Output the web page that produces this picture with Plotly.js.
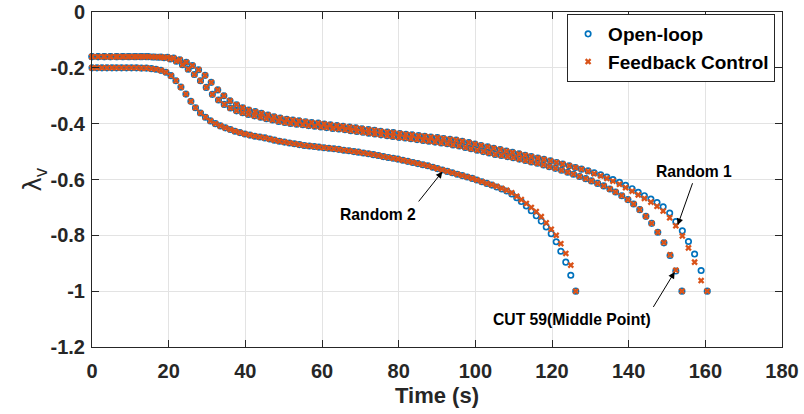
<!DOCTYPE html>
<html><head><meta charset="utf-8">
<script src="https://cdn.plot.ly/plotly-3.0.1.min.js"></script>
<style>html,body{margin:0;padding:0;background:#fff}#chart{width:804px;height:414px}</style>
</head><body><div id="chart"></div>
<script>
// ---- Random 1 ----
const tRandom1 = [0.0,1.6,3.3,4.9,6.6,8.2,9.8,11.5,13.1,14.7,
16.4,18.0,19.7,21.3,22.9,24.6,26.2,27.8,29.5,31.1,
32.8,34.4,36.0,37.7,39.3,40.9,42.6,44.2,45.9,47.5,
49.1,50.8,52.4,54.0,55.7,57.3,59.0,60.6,62.2,63.9,
65.5,67.2,68.8,70.4,72.1,73.7,75.3,77.0,78.6,80.3,
81.9,83.5,85.2,86.8,88.4,90.1,91.7,93.4,95.0,96.6,
98.3,99.9,101.5,103.2,104.8,106.5,108.1,109.7,111.4,113.0,
114.6,116.3,117.9,119.6,121.2,122.8,124.5,126.1,127.7,129.4,
131.0,132.7,134.3,135.9,137.6,139.2,140.9,142.5,144.1,145.8,
147.4,149.0,150.7,152.3,154.0,155.6,157.2,158.9,160.5];
const openRandom1 = [-0.160,-0.160,-0.160,-0.160,-0.160,-0.160,-0.160,-0.160,-0.160,-0.160,
-0.161,-0.161,-0.162,-0.165,-0.171,-0.180,-0.192,-0.207,-0.227,-0.252,
-0.279,-0.300,-0.318,-0.332,-0.343,-0.351,-0.357,-0.363,-0.369,-0.375,
-0.380,-0.384,-0.387,-0.390,-0.393,-0.396,-0.398,-0.401,-0.404,-0.407,
-0.409,-0.412,-0.415,-0.418,-0.421,-0.424,-0.427,-0.430,-0.432,-0.435,
-0.438,-0.440,-0.443,-0.445,-0.448,-0.450,-0.453,-0.456,-0.459,-0.463,
-0.468,-0.473,-0.478,-0.483,-0.488,-0.493,-0.498,-0.503,-0.508,-0.513,
-0.518,-0.523,-0.528,-0.533,-0.539,-0.545,-0.551,-0.557,-0.563,-0.569,
-0.576,-0.583,-0.591,-0.600,-0.610,-0.621,-0.633,-0.646,-0.658,-0.670,
-0.683,-0.698,-0.720,-0.751,-0.784,-0.822,-0.867,-0.926,-1.000];
const fbRandom1 = [-0.160,-0.160,-0.160,-0.160,-0.160,-0.160,-0.160,-0.160,-0.160,-0.160,
-0.161,-0.161,-0.162,-0.165,-0.171,-0.180,-0.192,-0.207,-0.227,-0.252,
-0.279,-0.300,-0.318,-0.332,-0.343,-0.351,-0.357,-0.363,-0.369,-0.375,
-0.380,-0.384,-0.387,-0.390,-0.393,-0.396,-0.398,-0.401,-0.404,-0.407,
-0.409,-0.412,-0.415,-0.418,-0.421,-0.424,-0.427,-0.430,-0.432,-0.435,
-0.438,-0.440,-0.443,-0.445,-0.448,-0.450,-0.453,-0.456,-0.459,-0.463,
-0.468,-0.473,-0.478,-0.483,-0.488,-0.493,-0.498,-0.503,-0.508,-0.513,
-0.518,-0.523,-0.528,-0.533,-0.539,-0.545,-0.551,-0.557,-0.563,-0.571,
-0.579,-0.587,-0.596,-0.606,-0.617,-0.629,-0.642,-0.655,-0.668,-0.681,
-0.696,-0.713,-0.737,-0.766,-0.802,-0.845,-0.896,-0.962,-1.000];

// ---- CUT 59 (Middle Point) ----
const tCut59 = [0.0,1.6,3.1,4.7,6.3,7.9,9.4,11.0,12.6,14.1,
15.7,17.3,18.8,20.4,22.0,23.6,25.1,26.7,28.3,29.8,
31.4,33.0,34.5,36.1,37.7,39.3,40.8,42.4,44.0,45.5,
47.1,48.7,50.3,51.8,53.4,55.0,56.5,58.1,59.7,61.2,
62.8,64.4,66.0,67.5,69.1,70.7,72.2,73.8,75.4,77.0,
78.5,80.1,81.7,83.2,84.8,86.4,87.9,89.5,91.1,92.7,
94.2,95.8,97.4,98.9,100.5,102.1,103.6,105.2,106.8,108.4,
109.9,111.5,113.1,114.6,116.2,117.8,119.3,120.9,122.5,124.1,
125.6,127.2,128.8,130.3,131.9,133.5,135.1,136.6,138.2,139.8,
141.3,142.9,144.5,146.0,147.6,149.2,150.8,152.3,153.9];
const openCut59 = [-0.160,-0.160,-0.160,-0.160,-0.160,-0.160,-0.160,-0.160,-0.160,-0.160,
-0.161,-0.162,-0.164,-0.168,-0.176,-0.189,-0.205,-0.224,-0.246,-0.270,
-0.295,-0.315,-0.331,-0.344,-0.354,-0.361,-0.367,-0.372,-0.377,-0.382,
-0.387,-0.392,-0.396,-0.399,-0.402,-0.404,-0.407,-0.409,-0.412,-0.414,
-0.417,-0.419,-0.422,-0.425,-0.428,-0.431,-0.434,-0.437,-0.440,-0.443,
-0.446,-0.449,-0.451,-0.454,-0.457,-0.460,-0.463,-0.466,-0.469,-0.472,
-0.476,-0.480,-0.485,-0.490,-0.495,-0.500,-0.505,-0.510,-0.514,-0.518,
-0.522,-0.527,-0.532,-0.537,-0.542,-0.548,-0.554,-0.560,-0.567,-0.574,
-0.581,-0.589,-0.597,-0.605,-0.614,-0.623,-0.634,-0.645,-0.658,-0.672,
-0.688,-0.708,-0.732,-0.757,-0.789,-0.827,-0.872,-0.928,-1.000];
const fbCut59 = [-0.160,-0.160,-0.160,-0.160,-0.160,-0.160,-0.160,-0.160,-0.160,-0.160,
-0.161,-0.162,-0.164,-0.168,-0.176,-0.189,-0.205,-0.224,-0.246,-0.270,
-0.295,-0.315,-0.331,-0.344,-0.354,-0.361,-0.367,-0.372,-0.377,-0.382,
-0.387,-0.392,-0.396,-0.399,-0.402,-0.404,-0.407,-0.409,-0.412,-0.414,
-0.417,-0.419,-0.422,-0.425,-0.428,-0.431,-0.434,-0.437,-0.440,-0.443,
-0.446,-0.449,-0.451,-0.454,-0.457,-0.460,-0.463,-0.466,-0.469,-0.472,
-0.476,-0.480,-0.485,-0.490,-0.495,-0.500,-0.505,-0.510,-0.514,-0.518,
-0.522,-0.527,-0.532,-0.537,-0.542,-0.548,-0.554,-0.560,-0.567,-0.574,
-0.581,-0.589,-0.597,-0.605,-0.614,-0.623,-0.634,-0.645,-0.658,-0.672,
-0.688,-0.708,-0.732,-0.757,-0.789,-0.826,-0.870,-0.925,-1.000];

// ---- Random 2 ----
const tRandom2 = [0.0,1.3,2.6,3.9,5.2,6.4,7.7,9.0,10.3,11.6,
12.9,14.2,15.5,16.7,18.0,19.3,20.6,21.9,23.2,24.5,
25.8,27.0,28.3,29.6,30.9,32.2,33.5,34.8,36.1,37.3,
38.6,39.9,41.2,42.5,43.8,45.1,46.4,47.6,48.9,50.2,
51.5,52.8,54.1,55.4,56.7,58.0,59.2,60.5,61.8,63.1,
64.4,65.7,67.0,68.3,69.5,70.8,72.1,73.4,74.7,76.0,
77.3,78.6,79.8,81.1,82.4,83.7,85.0,86.3,87.6,88.9,
90.1,91.4,92.7,94.0,95.3,96.6,97.9,99.2,100.4,101.7,
103.0,104.3,105.6,106.9,108.2,109.5,110.8,112.0,113.3,114.6,
115.9,117.2,118.5,119.8,121.1,122.3,123.6,124.9,126.2];
const openRandom2 = [-0.200,-0.200,-0.200,-0.200,-0.200,-0.200,-0.200,-0.200,-0.200,-0.200,
-0.201,-0.201,-0.203,-0.205,-0.209,-0.216,-0.228,-0.246,-0.269,-0.294,
-0.320,-0.343,-0.362,-0.377,-0.390,-0.400,-0.408,-0.415,-0.421,-0.427,
-0.432,-0.437,-0.441,-0.445,-0.448,-0.451,-0.455,-0.459,-0.463,-0.466,
-0.469,-0.472,-0.475,-0.478,-0.480,-0.482,-0.484,-0.486,-0.488,-0.490,
-0.492,-0.495,-0.497,-0.500,-0.502,-0.505,-0.508,-0.511,-0.514,-0.518,
-0.521,-0.524,-0.527,-0.531,-0.535,-0.539,-0.543,-0.547,-0.551,-0.556,
-0.561,-0.566,-0.571,-0.576,-0.581,-0.586,-0.591,-0.596,-0.602,-0.608,
-0.614,-0.620,-0.627,-0.634,-0.641,-0.652,-0.665,-0.679,-0.695,-0.712,
-0.730,-0.749,-0.770,-0.794,-0.823,-0.857,-0.896,-0.943,-1.000];
const fbRandom2 = [-0.200,-0.200,-0.200,-0.200,-0.200,-0.200,-0.200,-0.200,-0.200,-0.200,
-0.201,-0.201,-0.203,-0.205,-0.209,-0.216,-0.228,-0.246,-0.269,-0.294,
-0.320,-0.343,-0.362,-0.377,-0.390,-0.400,-0.408,-0.415,-0.421,-0.427,
-0.432,-0.437,-0.441,-0.445,-0.448,-0.451,-0.455,-0.459,-0.463,-0.466,
-0.469,-0.472,-0.475,-0.478,-0.480,-0.482,-0.484,-0.486,-0.488,-0.490,
-0.492,-0.495,-0.497,-0.500,-0.502,-0.505,-0.508,-0.511,-0.514,-0.518,
-0.521,-0.524,-0.527,-0.531,-0.535,-0.539,-0.543,-0.547,-0.551,-0.556,
-0.561,-0.566,-0.571,-0.576,-0.581,-0.586,-0.591,-0.596,-0.602,-0.608,
-0.614,-0.619,-0.625,-0.632,-0.639,-0.648,-0.660,-0.672,-0.686,-0.700,
-0.715,-0.733,-0.755,-0.778,-0.800,-0.830,-0.865,-0.907,-1.000];

// ---- axes ticks ----
const xTickVals = [0,20,40,60,80,100,120,140,160,180];
const xTickText = ['0','20','40','60','80','100','120','140','160','180'];
const yTickVals = [0,-0.2,-0.4,-0.6,-0.8,-1,-1.2];
const yTickText = ['0','-0.2','-0.4','-0.6','-0.8','-1','-1.2'];

const seriesNames = ['Open-loop','Feedback Control'];
const BLUE = '#0072BD', ORANGE = '#D95319';
const FONT = 'Liberation Sans, Arial, Helvetica, sans-serif';
const bold = s => '<b>' + s + '</b>';

function openTrace(t, y, show) {
  return {x: t, y: y, type: 'scatter', mode: 'markers', name: bold(seriesNames[0]),
    legendgroup: 'open', showlegend: show, cliponaxis: false,
    marker: {symbol: 'circle-open', size: 5.4, color: BLUE, line: {color: BLUE, width: 1.7}}};
}
function fbTrace(t, y, show) {
  return {x: t, y: y, type: 'scatter', mode: 'markers', name: bold(seriesNames[1]),
    legendgroup: 'fb', showlegend: show, cliponaxis: false,
    marker: {symbol: 'x', size: 5.8, color: ORANGE, line: {width: 0}}};
}
const data = [
  openTrace(tRandom1, openRandom1, true),
  openTrace(tCut59, openCut59, false),
  openTrace(tRandom2, openRandom2, false),
  fbTrace(tRandom1, fbRandom1, true),
  fbTrace(tCut59, fbCut59, false),
  fbTrace(tRandom2, fbRandom2, false)
];

const annFont = {family: FONT, size: 15.7, color: '#000'};
function label(text, x, y) {
  return {text: bold(text), x: x, y: y, xref: 'x', yref: 'y', showarrow: false,
    xanchor: 'center', yanchor: 'middle', font: annFont};
}
function arrow(x, y, ax, ay) {
  return {text: '', x: x, y: y, ax: ax, ay: ay, xref: 'x', yref: 'y', axref: 'x', ayref: 'y',
    showarrow: true, arrowhead: 2, arrowsize: 1.3, arrowwidth: 1, arrowcolor: '#000', standoff: 0, startstandoff: 0};
}

const axisCommon = {
  ticks: 'inside', ticklen: 7, tickwidth: 1, tickcolor: '#262626',
  showline: true, linecolor: '#262626', linewidth: 1, mirror: 'ticks',
  showgrid: true, gridcolor: '#e3e3e3', gridwidth: 1, zeroline: false,
  tickfont: {family: FONT, size: 20, color: '#262626'},
  automargin: false
};

const layout = {
  width: 804, height: 414,
  margin: {l: 92, r: 22, t: 12, b: 67},
  paper_bgcolor: '#fff', plot_bgcolor: '#fff',
  font: {family: FONT, color: '#262626'},
  showlegend: true,
  xaxis: Object.assign({}, axisCommon, {
    range: [0, 180], tickmode: 'array', tickvals: xTickVals, ticktext: xTickText.map(bold),
    ticklabelstandoff: 6,
    title: {text: bold('Time (s)'), font: {family: FONT, size: 22, color: '#262626'}, standoff: 6}
  }),
  yaxis: Object.assign({}, axisCommon, {
    range: [-1.2, 0], tickmode: 'array', tickvals: yTickVals, ticktext: yTickText.map(bold),
    ticklabelstandoff: 2,
    title: {text: 'λ<sub>v</sub>', font: {family: 'DejaVu Sans, ' + FONT, size: 24, color: '#262626'}, standoff: 0}
  }),
  legend: {x: 0.99, xanchor: 'right', y: 0.994, yanchor: 'top', tracegroupgap: 0,
    bgcolor: '#fff', bordercolor: '#262626', borderwidth: 1,
    font: {family: FONT, size: 19, color: '#000'}},
  annotations: [
    label('Random 1', 157.1, -0.572),
    arrow(152.8, -0.763, 156.8, -0.608),
    label('Random 2', 74.5, -0.727),
    arrow(91.4, -0.572, 84.9, -0.684),
    label('CUT 59(Middle Point)', 125.1, -1.1015),
    arrow(152.0, -0.931, 146.2, -1.062)
  ]
};

Plotly.newPlot('chart', data, layout, {displayModeBar: false, staticPlot: true});
</script>
</body></html>
